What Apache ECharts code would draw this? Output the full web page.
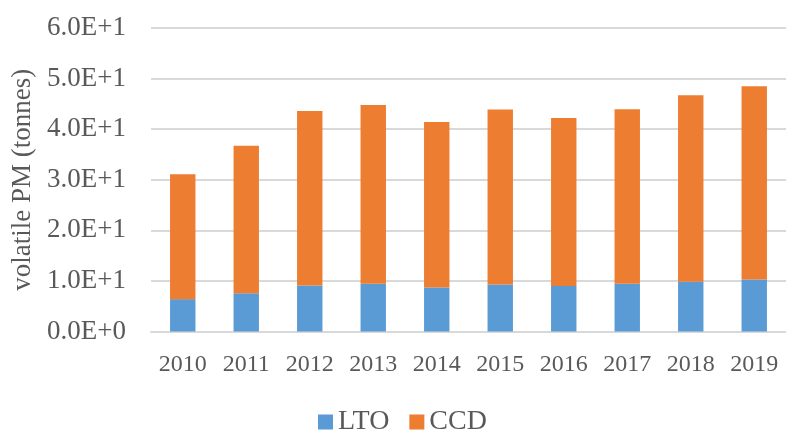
<!DOCTYPE html>
<html>
<head>
<meta charset="utf-8">
<script src="https://cdn.jsdelivr.net/npm/echarts@6/dist/echarts.min.js"></script>
<style>
  html, body { margin: 0; padding: 0; background: #fff; }
  #chart { width: 786px; height: 430px; }
</style>
</head>
<body>
<div id="chart"></div>
<script>
// 年份
var years = ['2010', '2011', '2012', '2013', '2014', '2015', '2016', '2017', '2018', '2019']
// LTO 部分
var ltoValues = [6.4, 7.55, 9.1, 9.45, 8.7, 9.3, 9.0, 9.45, 9.85, 10.3]
// CCD 部分 (堆叠在 LTO 上面)
var ccdValues = [24.7, 29.15, 34.5, 35.35, 32.7, 34.6, 33.2, 34.5, 36.85, 38.2]
var yTicks = ['0.0E+0', '1.0E+1', '2.0E+1', '3.0E+1', '4.0E+1', '5.0E+1', '6.0E+1']

var chart = echarts.init(document.getElementById('chart'))
var font = '"Liberation Serif", "Times New Roman", serif'
var grey = '#595959'

chart.setOption({
  animation: false,
  textStyle: { fontFamily: font },
  grid: {
    left: 151,
    right: 0,
    top: 28,
    bottom: 98.5
  },
  legend: {
    top: 403,
    left: 313,
    itemWidth: 15,
    itemHeight: 15,
    itemGap: 20,
    icon: 'rect',
    textStyle: { fontFamily: font, fontSize: 28, color: grey },
    data: ['LTO', 'CCD']
  },
  xAxis: {
    type: 'category',
    data: years,
    axisLine: { show: true, lineStyle: { color: '#d9d9d9', width: 2 } },
    axisTick: { show: false },
    axisLabel: {
      color: grey,
      fontSize: 24,
      fontFamily: font,
      margin: 21
    },
    splitLine: { show: false } // 去除竖线
  },
  yAxis: {
    type: 'value',
    min: 0,
    max: 60,
    interval: 10,
    name: 'volatile PM (tonnes)',
    nameLocation: 'middle',
    nameGap: 114,
    nameTextStyle: { color: grey, fontSize: 27, fontFamily: font },
    axisLine: { show: false },
    axisTick: { show: false },
    axisLabel: {
      color: grey,
      fontSize: 27,
      fontFamily: font,
      margin: 25,
      formatter: function (v) {
        return yTicks[Math.round(v / 10)]
      }
    },
    splitLine: {
      show: true,
      lineStyle: { color: '#d9d9d9', width: 2 }
    }
  },
  series: [
    {
      name: 'LTO',
      type: 'bar',
      stack: 'total',
      barWidth: '40%',
      itemStyle: { color: '#5b9bd5' },
      data: ltoValues
    },
    {
      name: 'CCD',
      type: 'bar',
      stack: 'total',
      barWidth: '40%',
      itemStyle: { color: '#ed7d31' },
      data: ccdValues
    }
  ]
})
</script>
</body>
</html>
